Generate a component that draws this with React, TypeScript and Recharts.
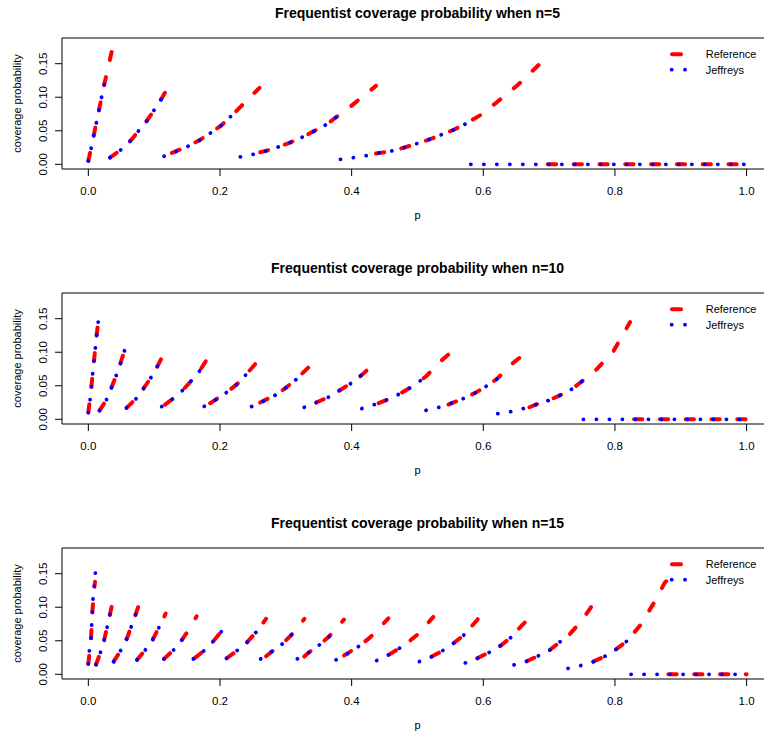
import React from "react";
import { LineChart, Line, XAxis, YAxis, ReferenceArea } from "recharts";

type Seg = [number, number][];

// x ticks / y ticks
const X_TICKS = [0, 0.2, 0.4, 0.6, 0.8, 1.0];
const Y_TICKS = [0, 0.05, 0.1, 0.15];
const SAMPLE_SIZES = [5, 10, 15];

// n = 5 : [p, coverage] pieces
const REF_N5: Seg[] = [
  [[0, 0.005], [0.008, 0.042], [0.016, 0.08], [0.024, 0.118], [0.0355, 0.168]],
  [[0.033, 0.01], [0.05, 0.022], [0.064, 0.035], [0.0765, 0.05], [0.089, 0.065], [0.1, 0.081], [0.111, 0.0975], [0.119, 0.111]],
  [[0.127, 0.017], [0.1515, 0.027], [0.169, 0.036], [0.186, 0.047], [0.202, 0.058], [0.216, 0.071], [0.2315, 0.086], [0.26, 0.114]],
  [[0.261, 0.018], [0.27, 0.02], [0.289, 0.026], [0.308, 0.033], [0.326, 0.041], [0.344, 0.05], [0.361, 0.059], [0.3775, 0.071], [0.398, 0.086], [0.437, 0.117]],
  [[0.437, 0.016], [0.461, 0.02], [0.48, 0.025], [0.4995, 0.031], [0.518, 0.037], [0.536, 0.044], [0.555, 0.0515], [0.5725, 0.06], [0.595, 0.073], [0.6205, 0.0925], [0.651, 0.117], [0.684, 0.148]],
  [[0.698, 0], [1, 0]],
];
const JEF_N5: Seg[] = [
  [[0, 0.005], [0.004, 0.023], [0.008, 0.042], [0.012, 0.061], [0.016, 0.08], [0.02, 0.0995], [0.024, 0.118], [0.029, 0.137]],
  [[0.033, 0.01], [0.05, 0.022], [0.064, 0.035], [0.0765, 0.05], [0.089, 0.065], [0.1, 0.081], [0.111, 0.0975]],
  [[0.115, 0.012], [0.127, 0.016], [0.1515, 0.027], [0.169, 0.036], [0.186, 0.047], [0.202, 0.058], [0.216, 0.071]],
  [[0.231, 0.011], [0.251, 0.015], [0.27, 0.02], [0.289, 0.026], [0.308, 0.033], [0.326, 0.041], [0.344, 0.05], [0.361, 0.059], [0.3775, 0.071]],
  [[0.383, 0.0074], [0.403, 0.01], [0.422, 0.013], [0.442, 0.017], [0.461, 0.02], [0.48, 0.025], [0.4995, 0.031], [0.518, 0.037], [0.536, 0.044], [0.555, 0.0515], [0.5725, 0.06]],
  [[0.581, 0], [1, 0]],
];

// n = 10
const REF_N10: Seg[] = [
  [[0, 0.01], [0.0046, 0.048], [0.0086, 0.087], [0.0127, 0.126], [0.015, 0.145]],
  [[0.017, 0.013], [0.028, 0.03], [0.0355, 0.048], [0.0426, 0.066], [0.049, 0.084], [0.055, 0.1025]],
  [[0.058, 0.017], [0.0725, 0.0306], [0.084, 0.046], [0.095, 0.062], [0.105, 0.079], [0.1125, 0.0936]],
  [[0.1165, 0.022], [0.129, 0.031], [0.143, 0.043], [0.1565, 0.0575], [0.169, 0.072], [0.18, 0.089]],
  [[0.185, 0.024], [0.193, 0.029], [0.21, 0.04], [0.2255, 0.052], [0.239, 0.066], [0.255, 0.084]],
  [[0.261, 0.025], [0.284, 0.036], [0.3, 0.047], [0.3156, 0.0594], [0.336, 0.079]],
  [[0.346, 0.025], [0.365, 0.033], [0.3815, 0.043], [0.398, 0.053], [0.414, 0.065], [0.4255, 0.075]],
  [[0.441, 0.024], [0.4535, 0.029], [0.471, 0.037], [0.489, 0.047], [0.505, 0.058], [0.514, 0.065], [0.534, 0.0856], [0.547, 0.0966]],
  [[0.547, 0.022], [0.57, 0.031], [0.587, 0.039], [0.604, 0.049], [0.6206, 0.06], [0.6415, 0.081], [0.656, 0.0925]],
  [[0.67, 0.018], [0.68, 0.022], [0.699, 0.028], [0.717, 0.036], [0.7346, 0.045], [0.751, 0.0575], [0.7726, 0.075], [0.798, 0.102], [0.823, 0.145]],
  [[0.829, 0], [1, 0]],
];
const JEF_N10: Seg[] = [
  [[0, 0.01], [0.0026, 0.029], [0.0046, 0.048], [0.0066, 0.068], [0.0086, 0.087], [0.0107, 0.107], [0.0127, 0.126], [0.015, 0.145]],
  [[0.017, 0.013], [0.028, 0.03], [0.0355, 0.048], [0.0426, 0.066], [0.049, 0.084], [0.055, 0.1025]],
  [[0.058, 0.017], [0.0725, 0.0306], [0.084, 0.046], [0.095, 0.062], [0.105, 0.079]],
  [[0.1115, 0.019], [0.129, 0.031], [0.143, 0.043], [0.1565, 0.0575], [0.169, 0.072]],
  [[0.176, 0.0193], [0.193, 0.029], [0.21, 0.04], [0.2255, 0.052], [0.239, 0.066]],
  [[0.248, 0.019], [0.266, 0.027], [0.284, 0.036], [0.3, 0.047], [0.3156, 0.0594]],
  [[0.328, 0.018], [0.346, 0.025], [0.365, 0.033], [0.3815, 0.043], [0.398, 0.053], [0.414, 0.065]],
  [[0.4155, 0.016], [0.4347, 0.022], [0.4535, 0.029], [0.471, 0.037], [0.489, 0.047], [0.505, 0.058]],
  [[0.513, 0.0134], [0.533, 0.018], [0.551, 0.024], [0.57, 0.031], [0.587, 0.039], [0.604, 0.049], [0.6206, 0.06]],
  [[0.622, 0.0084], [0.642, 0.0114], [0.661, 0.016], [0.68, 0.022], [0.699, 0.028], [0.717, 0.036], [0.7346, 0.045], [0.751, 0.0575]],
  [[0.752, 0], [1, 0]],
];

// n = 15
const REF_N15: Seg[] = [
  [[0, 0.0155], [0.0041, 0.0537], [0.0061, 0.0924], [0.0092, 0.1312], [0.0102, 0.138]],
  [[0.0117, 0.0145], [0.0183, 0.0324], [0.0239, 0.0502], [0.0284, 0.0701], [0.036, 0.1034]],
  [[0.0385, 0.0189], [0.0497, 0.0364], [0.0583, 0.0528], [0.0654, 0.0716], [0.072, 0.0895], [0.076, 0.101]],
  [[0.074, 0.0215], [0.0866, 0.0364], [0.0978, 0.0517], [0.1074, 0.0701], [0.1175, 0.0905]],
  [[0.115, 0.023], [0.1297, 0.0364], [0.1418, 0.0507], [0.153, 0.0671], [0.1646, 0.0865]],
  [[0.162, 0.0245], [0.1753, 0.0349], [0.1889, 0.0483], [0.2021, 0.0637]],
  [[0.2102, 0.0239], [0.2264, 0.0358], [0.2411, 0.0477], [0.2547, 0.0626], [0.2699, 0.0826]],
  [[0.27, 0.027], [0.2786, 0.0338], [0.2947, 0.0453], [0.3089, 0.0592], [0.3282, 0.0826]],
  [[0.328, 0.0264], [0.3348, 0.0324], [0.351, 0.0438], [0.3661, 0.0567], [0.3884, 0.0816]],
  [[0.3884, 0.028], [0.4102, 0.0413], [0.4254, 0.0528], [0.4355, 0.062], [0.4558, 0.0835]],
  [[0.4568, 0.0294], [0.4725, 0.0388], [0.4887, 0.0502], [0.5013, 0.0602], [0.5241, 0.0856]],
  [[0.5216, 0.0264], [0.5383, 0.0353], [0.5555, 0.0468], [0.5707, 0.0587], [0.595, 0.086]],
  [[0.591, 0.0239], [0.6092, 0.0328], [0.6264, 0.0428], [0.6416, 0.0547], [0.6583, 0.0726], [0.6694, 0.0835]],
  [[0.6659, 0.0194], [0.6846, 0.0279], [0.7014, 0.0364], [0.717, 0.0488], [0.7317, 0.0602], [0.7495, 0.08], [0.7672, 0.105]],
  [[0.7672, 0.0189], [0.7849, 0.0268], [0.8026, 0.0379], [0.8178, 0.0492], [0.8381, 0.0726], [0.8583, 0.105], [0.876, 0.1372], [0.8826, 0.1422]],
  [[0.8811, 0], [1, 0]],
];
const JEF_N15: Seg[] = [
  [[0, 0.0155], [0.0016, 0.0349], [0.0041, 0.0537], [0.0051, 0.0736], [0.0061, 0.0924], [0.0071, 0.1124], [0.0092, 0.1312], [0.0107, 0.1512]],
  [[0.0117, 0.0145], [0.0183, 0.0324], [0.0239, 0.0502], [0.0284, 0.0701], [0.037, 0.1074]],
  [[0.0385, 0.0189], [0.0497, 0.0364], [0.0583, 0.0528], [0.0654, 0.0716], [0.072, 0.0895]],
  [[0.074, 0.0215], [0.0866, 0.0364], [0.0978, 0.0517], [0.1074, 0.0701]],
  [[0.115, 0.023], [0.1297, 0.0364], [0.1418, 0.0507], [0.153, 0.0671]],
  [[0.1595, 0.023], [0.1753, 0.0349], [0.1889, 0.0483], [0.2021, 0.0637]],
  [[0.2102, 0.0239], [0.2264, 0.0358], [0.2411, 0.0477], [0.2547, 0.0626]],
  [[0.2618, 0.023], [0.2786, 0.0338], [0.2947, 0.0453], [0.3089, 0.0592]],
  [[0.3175, 0.023], [0.3348, 0.0324], [0.351, 0.0438], [0.3661, 0.0567]],
  [[0.3763, 0.0215], [0.3925, 0.0298], [0.4102, 0.0413], [0.4254, 0.0528]],
  [[0.438, 0.0204], [0.4568, 0.0294], [0.4725, 0.0388], [0.4887, 0.0502]],
  [[0.5029, 0.0189], [0.5216, 0.0264], [0.5383, 0.0353], [0.5555, 0.0468], [0.5707, 0.0587]],
  [[0.5727, 0.017], [0.591, 0.0239], [0.6092, 0.0328], [0.6264, 0.0428], [0.6416, 0.0547]],
  [[0.6467, 0.014], [0.6659, 0.0194], [0.6846, 0.0279], [0.7014, 0.0364], [0.717, 0.0488]],
  [[0.7287, 0.0089], [0.748, 0.013], [0.7672, 0.0189], [0.7849, 0.0268], [0.8026, 0.0379], [0.8178, 0.0492]],
  [[0.8244, 0], [1, 0]],
];

const REF_SEGS = [REF_N5, REF_N10, REF_N15];
const JEF_SEGS = [JEF_N5, JEF_N10, JEF_N15];

const FONT = "'Liberation Sans', Arial, Helvetica, sans-serif";
const W = 764;
const H = 255;
const TOP = 38;
const PLOT_H = 131;
const LEFT = 62;
const X_DOMAIN: [number, number] = [-0.04, 1.0264];
const Y_DOMAIN: [number, number] = [-0.007, 0.1883];

const toRows = (seg: Seg) => seg.map(([p, v]) => ({ p, v }));

const XTick = (props: any) => {
  const { x, y, payload } = props;
  return (
    <text x={x} y={y + 18.5} textAnchor="middle" fontSize={11.5} fontFamily={FONT} fill="#000">
      {Number(payload.value).toFixed(1)}
    </text>
  );
};

const YTick = (props: any) => {
  const { y, payload } = props;
  const bx = 47.5;
  return (
    <text x={bx} y={y} transform={`rotate(-90 ${bx} ${y})`} textAnchor="middle" fontSize={11.5} fontFamily={FONT} fill="#000">
      {Number(payload.value).toFixed(2)}
    </text>
  );
};

function Panel({ n, refSegs, jefSegs }: { n: number; refSegs: Seg[]; jefSegs: Seg[] }) {
  const midX = 417.5;
  const midY = TOP + PLOT_H / 2;
  return (
    <div style={{ position: "relative", width: W, height: H }}>
      <LineChart width={W} height={H} margin={{ top: TOP, right: 0, bottom: H - TOP - PLOT_H - 30, left: 0 }}>
        <XAxis
          dataKey="p"
          type="number"
          domain={X_DOMAIN}
          allowDataOverflow
          ticks={X_TICKS}
          height={30}
          axisLine={false}
          tickSize={7}
          tickMargin={0}
          tickLine={{ stroke: "#000" }}
          tick={<XTick />}
        />
        <YAxis
          type="number"
          domain={Y_DOMAIN}
          allowDataOverflow
          ticks={Y_TICKS}
          width={LEFT}
          axisLine={false}
          tickSize={7}
          tickLine={{ stroke: "#000" }}
          tick={<YTick />}
        />
        <ReferenceArea
          x1={X_DOMAIN[0]}
          x2={1.04}
          y1={Y_DOMAIN[0]}
          y2={Y_DOMAIN[1]}
          ifOverflow="visible"
          fill="none"
          stroke="#000"
          strokeWidth={1}
        />
        {refSegs.map((seg, i) => (
          <Line
            key={`ref-${i}`}
            data={toRows(seg)}
            dataKey="v"
            type="linear"
            stroke="#ff0000"
            strokeWidth={4}
            strokeDasharray="8.3 17.5"
            strokeLinecap="round"
            dot={false}
            activeDot={false}
            legendType="none"
            isAnimationActive={false}
          />
        ))}
        {jefSegs.map((seg, i) => (
          <Line
            key={`jef-${i}`}
            data={toRows(seg)}
            dataKey="v"
            type="linear"
            stroke="#0000ff"
            strokeWidth={3.8}
            strokeDasharray="0.1 12.9"
            strokeLinecap="round"
            dot={false}
            activeDot={false}
            legendType="none"
            isAnimationActive={false}
          />
        ))}
      </LineChart>
      <svg width={W} height={H} style={{ position: "absolute", left: 0, top: 0, pointerEvents: "none" }} fontFamily={FONT}>
        <text x={midX} y={17.5} textAnchor="middle" fontSize={14} fontWeight="bold" fill="#000">
          {`Frequentist coverage probability when n=${n}`}
        </text>
        <text x={midX} y={218.5} textAnchor="middle" fontSize={11} fill="#000">
          p
        </text>
        <text x={20.5} y={midY} transform={`rotate(-90 20.5 ${midY})`} textAnchor="middle" fontSize={11} fill="#000">
          coverage probability
        </text>
        <line x1={672} y1={54.3} x2={681} y2={54.3} stroke="#ff0000" strokeWidth={4} strokeLinecap="round" />
        <circle cx={671.7} cy={69.7} r={1.9} fill="#0000ff" />
        <circle cx={685} cy={69.7} r={1.9} fill="#0000ff" />
        <text x={705.7} y={58.3} fontSize={11} fill="#000">
          Reference
        </text>
        <text x={705.7} y={73.7} fontSize={11} fill="#000">
          Jeffreys
        </text>
      </svg>
    </div>
  );
}

export default function App() {
  return (
    <div style={{ position: "absolute", left: 0, top: 0, width: W, height: 738, overflow: "hidden", background: "#fff" }}>
      {SAMPLE_SIZES.map((n, i) => (
        <Panel key={n} n={n} refSegs={REF_SEGS[i]} jefSegs={JEF_SEGS[i]} />
      ))}
    </div>
  );
}
